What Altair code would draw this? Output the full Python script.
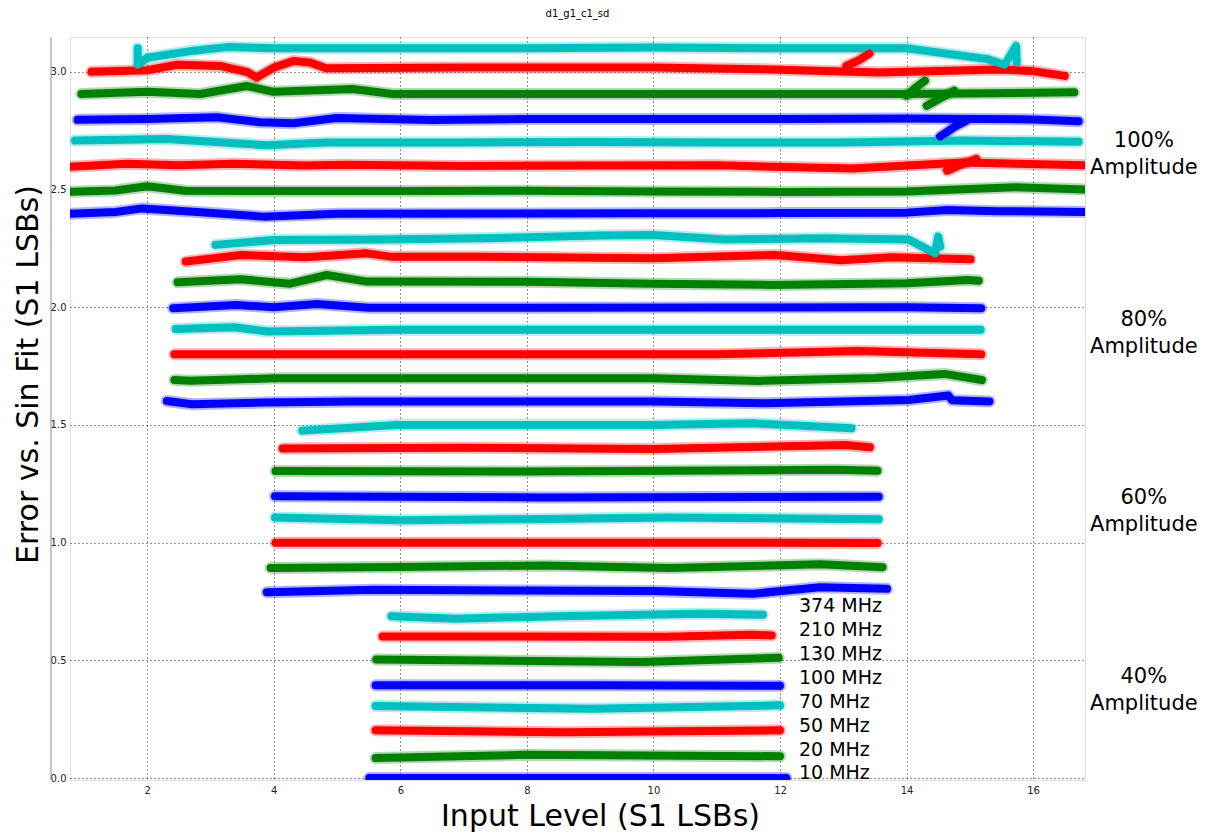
import altair as alt
import pandas as pd

# ---- data -------------------------------------------------------------------
COLOR_CODES = ["b", "g", "r", "c"]
COLOR_HEX = ["#0000ff", "#008000", "#ff0000", "#00bfbf"]

# each band k (0..31) is drawn around 0.1*k; colour cycles b, g, r, c
BAND_X = [
    # 40% amplitude
    [5.51, 9.0, 12.10],
    [5.61, 6.93, 7.98, 12.00],
    [5.61, 8.61, 12.00],
    [5.61, 9.03, 12.00],
    [5.61, 9.00, 12.00],
    [5.62, 9.82, 11.98],
    [5.72, 10.2, 11.55, 11.87],
    [5.86, 6.88, 8.5, 10.76, 11.73],
    # 60% amplitude
    [3.89, 5.6, 8.0, 10.0, 11.57, 12.63, 13.69],
    [3.95, 6.0, 8.26, 10.25, 12.63, 13.62],
    [4.03, 7.0, 10.0, 13.54],
    [4.02, 6.0, 8.0, 10.24, 13.56],
    [4.02, 8.26, 13.56],
    [4.03, 8.0, 12.89, 13.54],
    [4.14, 7.0, 10.0, 13.03, 13.42],
    [4.45, 5.94, 7.99, 9.98, 11.57, 13.13],
    # 80% amplitude
    [2.31, 2.71, 3.84, 5.21, 8.0, 10.0, 11.76, 14.03, 14.66, 14.72, 15.31],
    [2.43, 2.69, 4.0, 7.0, 10.0, 11.66, 13.5, 14.6, 15.19],
    [2.43, 5.0, 8.0, 11.0, 13.24, 15.18],
    [2.45, 3.37, 3.9, 6.0, 9.0, 12.0, 15.17],
    [2.41, 3.40, 4.0, 4.68, 5.5, 8.0, 11.0, 14.0, 15.18],
    [2.48, 3.48, 4.26, 4.84, 5.47, 8.0, 10.0, 11.87, 14.0, 14.97, 15.14],
    [2.61, 3.48, 4.5, 5.47, 5.84, 7.31, 10.0, 11.92, 12.97, 13.76, 15.01],
    [3.08, 4.0, 5.73, 7.31, 9.14, 10.0, 11.13, 12.71, 14.03, 14.45, 14.5, 14.53],
    # 100% amplitude
    [0.70, 1.5, 1.92, 2.73, 3.84, 5.0, 8.0, 10.0, 12.0, 14.0, 14.64, 15.44, 16.9],
    [0.70, 1.5, 2.0, 2.6, 4.0, 6.0, 8.0, 10.0, 12.0, 14.0, 15.7, 16.9],
    [0.70, 1.69, 2.5, 3.36, 4.5, 5.15, 7.0, 9.0, 11.0, 13.15, 14.9, 15.4, 16.9],
    [0.86, 2.31, 3.89, 4.83, 7.0, 9.0, 11.0, 13.0, 14.9, 16.72],
    [0.90, 2.0, 3.10, 3.78, 4.31, 4.99, 6.5, 8.0, 10.0, 12.0, 14.0, 16.0, 16.72],
    [0.96, 2.0, 2.84, 3.57, 4.0, 5.25, 5.88, 8.0, 10.0, 12.0, 14.0, 16.65],
    [1.12, 2.0, 2.47, 3.15, 3.57, 3.73, 4.0, 4.31, 4.57, 4.83, 7.0, 10.0, 11.7, 13.57, 15.44, 15.97, 16.5],
    [1.85, 1.85, 2.0, 2.73, 3.26, 4.0, 6.0, 8.0, 10.0, 12.0, 14.0, 15.28, 15.55, 15.73, 15.74],
]
BAND_Y = [
    [0.001, 0.0, 0.001],
    [0.085, 0.093, 0.099, 0.093],
    [0.203, 0.195, 0.203],
    [0.306, 0.295, 0.309],
    [0.394, 0.394, 0.392],
    [0.504, 0.493, 0.511],
    [0.602, 0.600, 0.609, 0.606],
    [0.688, 0.677, 0.688, 0.698, 0.694],
    [0.790, 0.800, 0.797, 0.795, 0.783, 0.811, 0.804],
    [0.893, 0.897, 0.903, 0.893, 0.908, 0.896],
    [1.000, 1.000, 1.000, 0.999],
    [1.107, 1.095, 1.100, 1.107, 1.100],
    [1.197, 1.192, 1.195],
    [1.304, 1.302, 1.310, 1.306],
    [1.400, 1.403, 1.398, 1.415, 1.405],
    [1.476, 1.500, 1.500, 1.500, 1.507, 1.486],
    [1.602, 1.588, 1.595, 1.600, 1.600, 1.600, 1.592, 1.606, 1.625, 1.605, 1.600],
    [1.691, 1.688, 1.698, 1.698, 1.698, 1.687, 1.700, 1.717, 1.691],
    [1.800, 1.800, 1.800, 1.800, 1.814, 1.800],
    [1.908, 1.915, 1.897, 1.904, 1.904, 1.905, 1.904],
    [1.996, 2.010, 2.000, 2.014, 1.998, 1.998, 1.999, 2.000, 1.996],
    [2.106, 2.119, 2.100, 2.137, 2.109, 2.108, 2.100, 2.095, 2.102, 2.116, 2.113],
    [2.194, 2.222, 2.212, 2.229, 2.215, 2.215, 2.208, 2.222, 2.200, 2.212, 2.204],
    [2.265, 2.286, 2.288, 2.293, 2.305, 2.307, 2.288, 2.293, 2.288, 2.229, 2.300, 2.258],
    [2.396, 2.405, 2.420, 2.406, 2.385, 2.397, 2.398, 2.399, 2.400, 2.402, 2.413, 2.408, 2.405],
    [2.490, 2.496, 2.514, 2.495, 2.494, 2.494, 2.495, 2.492, 2.490, 2.492, 2.510, 2.500],
    [2.596, 2.610, 2.603, 2.610, 2.602, 2.605, 2.600, 2.602, 2.603, 2.589, 2.615, 2.612, 2.603],
    [2.708, 2.715, 2.688, 2.700, 2.700, 2.702, 2.700, 2.700, 2.708, 2.703],
    [2.796, 2.800, 2.807, 2.786, 2.782, 2.804, 2.795, 2.800, 2.800, 2.800, 2.802, 2.798, 2.790],
    [2.906, 2.915, 2.906, 2.940, 2.915, 2.927, 2.906, 2.906, 2.906, 2.906, 2.906, 2.913],
    [3.000, 3.007, 3.030, 3.025, 3.000, 2.976, 3.018, 3.046, 3.040, 3.015, 3.018, 3.018, 3.011, 2.997, 3.010, 3.004, 2.983],
    [3.100, 3.030, 3.060, 3.090, 3.105, 3.100, 3.100, 3.100, 3.103, 3.100, 3.100, 3.054, 3.030, 3.110, 3.040],
]

# short side branches seen in the 100% group: (colour code, xs, ys)
BRANCH_COLOR = ["r", "g", "g", "b", "r"]
BRANCH_X = [[13.05, 13.25, 13.41], [14.0, 14.15, 14.29], [14.32, 14.55, 14.75],
            [14.53, 14.75, 14.93], [14.64, 14.9, 15.1]]
BRANCH_Y = [[3.025, 3.05, 3.077], [2.899, 2.935, 2.962], [2.856, 2.89, 2.92],
            [2.725, 2.765, 2.79], [2.58, 2.61, 2.63]]

FREQ_LABELS = ["10 MHz", "20 MHz", "50 MHz", "70 MHz", "100 MHz", "130 MHz", "210 MHz", "374 MHz"]
FREQ_LABEL_Y = [0.023, 0.121, 0.223, 0.325, 0.427, 0.529, 0.631, 0.733]
FREQ_LABEL_X = 12.30

AMP_PCT = ["100%", "80%", "60%", "40%"]
AMP_PCT_Y = [2.707, 1.947, 1.191, 0.431]
AMP_WORD_Y = [2.592, 1.832, 1.076, 0.316]
AMP_LABEL_X = 17.75

X_TICKS = [2, 4, 6, 8, 10, 12, 14, 16]
Y_TICKS = [0.0, 0.5, 1.0, 1.5, 2.0, 2.5, 3.0]
X_DOMAIN = [0.78, 16.82]
Y_DOMAIN = [-0.008, 3.148]

# ---- tables -----------------------------------------------------------------
rows = []
for k, (xs, ys) in enumerate(zip(BAND_X, BAND_Y)):
    for i, (x, y) in enumerate(zip(xs, ys)):
        rows.append({"band": f"band{k}", "x": x, "y": y, "i": i, "col": COLOR_CODES[k % 4]})
for j, (c, xs, ys) in enumerate(zip(BRANCH_COLOR, BRANCH_X, BRANCH_Y)):
    for i, (x, y) in enumerate(zip(xs, ys)):
        rows.append({"band": f"branch{j}", "x": x, "y": y, "i": i, "col": c})
df = pd.DataFrame(rows)

freq_df = pd.DataFrame({"label": FREQ_LABELS, "y": FREQ_LABEL_Y, "x": [FREQ_LABEL_X] * len(FREQ_LABELS)})
amp_df = pd.DataFrame(
    {"label": AMP_PCT + ["Amplitude"] * 4,
     "y": AMP_PCT_Y + AMP_WORD_Y,
     "x": [AMP_LABEL_X] * 8}
)

xscale = alt.Scale(domain=X_DOMAIN, nice=False, zero=False)
yscale = alt.Scale(domain=Y_DOMAIN, nice=False, zero=False)

xaxis = alt.Axis(values=X_TICKS, format="d", title="Input Level (S1 LSBs)",
                 grid=True, gridColor="#000000", gridDash=[1, 3], gridOpacity=0.85,
                 domain=False, ticks=False, labelFontSize=10, labelColor="#222222",
                 labelPadding=5, labelFont="DejaVu Sans",
                 titleFontSize=30, titleFontWeight="normal", titleFont="DejaVu Sans",
                 titleColor="#000000", titleX=530, titleY=36, titleBaseline="middle")
yaxis = alt.Axis(values=Y_TICKS, format=".1f", title="Error vs. Sin Fit (S1 LSBs)",
                 grid=True, gridColor="#000000", gridDash=[1, 3], gridOpacity=0.85,
                 domain=False, ticks=False, labelFontSize=10, labelColor="#222222",
                 labelPadding=4, labelFont="DejaVu Sans",
                 titleFontSize=30, titleFontWeight="normal", titleFont="DejaVu Sans",
                 titleColor="#000000", titleX=-42, titleY=337, titleBaseline="middle",
                 titleAngle=270)

color_enc = alt.Color("col:N", scale=alt.Scale(domain=COLOR_CODES, range=COLOR_HEX), legend=None)

# soft halo to imitate the scattered, noisy edges of each band
halo = alt.Chart(df).mark_line(strokeWidth=12, strokeCap="round", strokeJoin="round",
                               opacity=0.3, clip=True).encode(
    x=alt.X("x:Q", scale=xscale, axis=xaxis),
    y=alt.Y("y:Q", scale=yscale, axis=yaxis),
    color=color_enc, detail="band:N", order="i:Q",
)
bands = alt.Chart(df).mark_line(strokeWidth=8, strokeCap="round", strokeJoin="round", clip=True).encode(
    x=alt.X("x:Q", scale=xscale),
    y=alt.Y("y:Q", scale=yscale),
    color=color_enc, detail="band:N", order="i:Q",
)

freq_text = alt.Chart(freq_df).mark_text(align="left", baseline="middle", fontSize=19,
                                         font="DejaVu Sans", color="#000000").encode(
    x=alt.X("x:Q", scale=xscale), y=alt.Y("y:Q", scale=yscale), text="label:N")

amp_text = alt.Chart(amp_df).mark_text(align="center", baseline="middle", fontSize=21,
                                       font="DejaVu Sans", color="#000000").encode(
    x=alt.X("x:Q", scale=xscale), y=alt.Y("y:Q", scale=yscale), text="label:N")

# thin grey spine seen left of the y tick labels
spine = alt.Chart(pd.DataFrame({"a": [0]})).mark_rule(color="#888888", strokeWidth=1).encode(
    x=alt.value(-19), y=alt.value(0), y2=alt.value(743))

chart = alt.layer(halo, bands, freq_text, amp_text, spine).properties(
    width=1015, height=743,
    title=alt.Title("d1_g1_c1_sd", fontSize=10, fontWeight="normal", font="DejaVu Sans",
                    color="#000000", offset=18, anchor="middle"),
    autosize=alt.AutoSizeParams(type="none"),
    padding={"left": 62, "top": 29, "right": 118, "bottom": 52},
).configure_view(stroke="#000000", strokeWidth=1.5).configure(background="#ffffff")

chart.save("out.html", embed_options={"renderer": "svg", "actions": False})
